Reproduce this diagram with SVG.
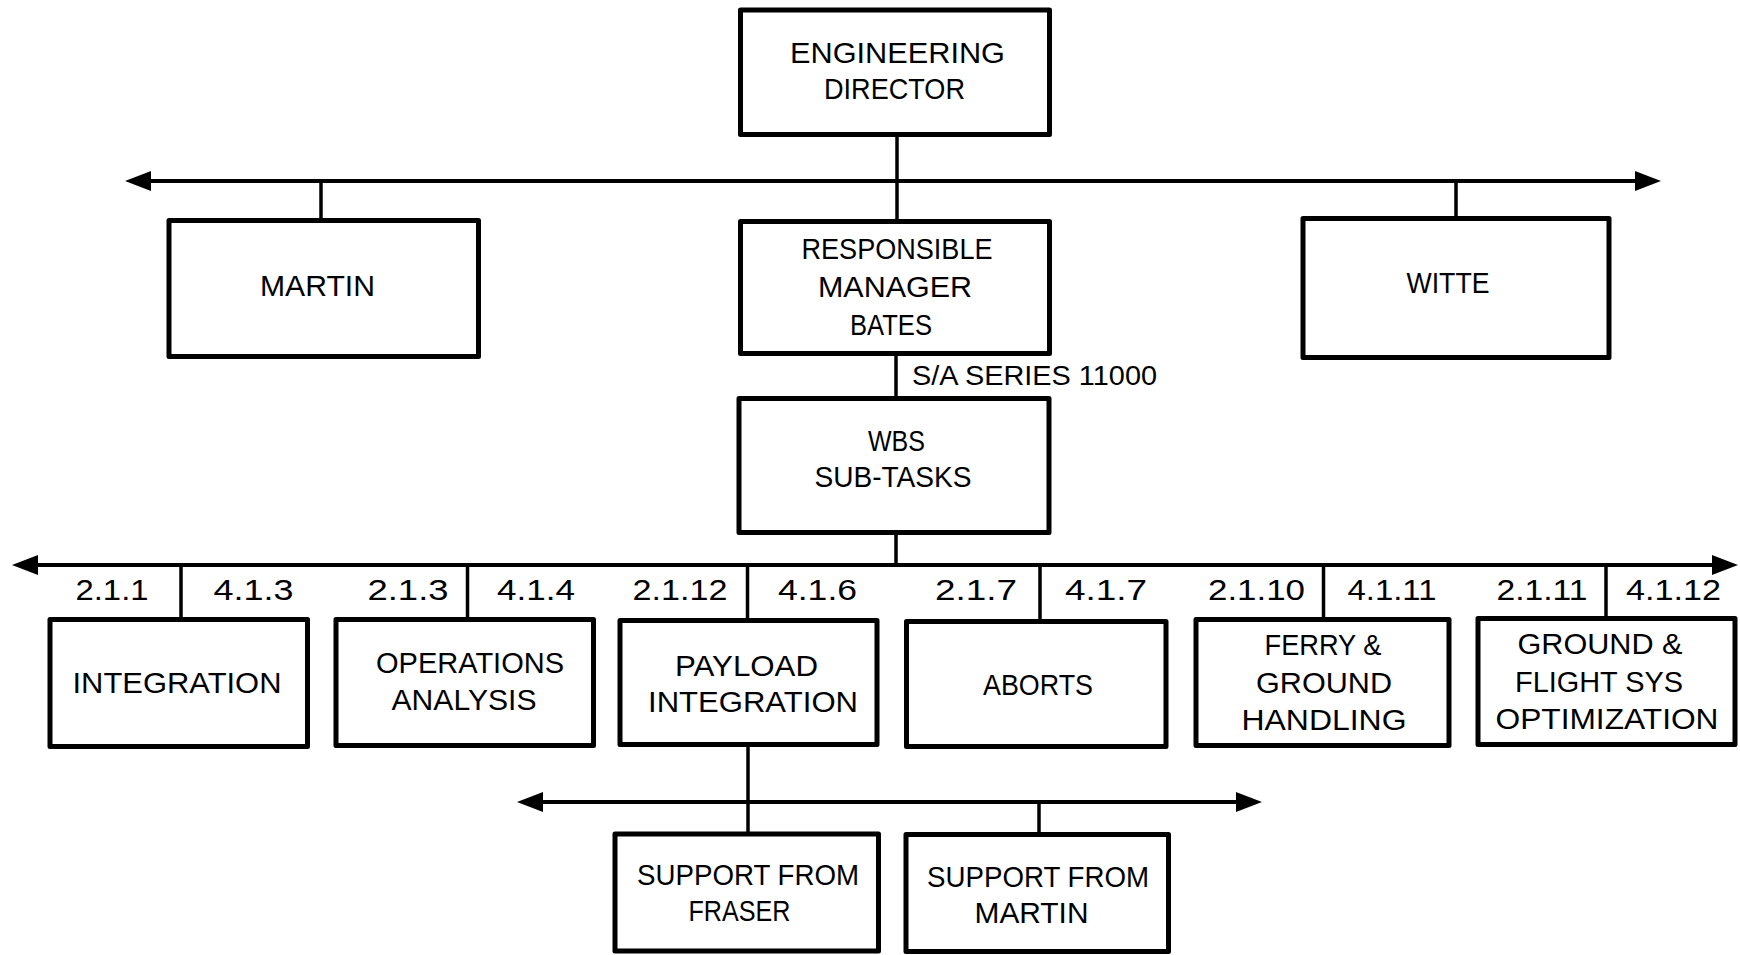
<svg xmlns="http://www.w3.org/2000/svg" width="1740" height="955" viewBox="0 0 1740 955">
  <style>
    .box { fill: #ffffff; stroke: #000000; stroke-width: 5; stroke-linejoin: round; }
    .ln { stroke: #000000; stroke-width: 4; fill: none; }
    .conn { stroke: #000000; stroke-width: 3.5; fill: none; }
    .t { font-family: "Liberation Sans", Arial, sans-serif; font-size: 30px; fill: #000000; text-anchor: middle; }
    .code { font-family: "Liberation Sans", Arial, sans-serif; font-size: 29px; fill: #000000; text-anchor: middle; }
    .lab { font-family: "Liberation Sans", Arial, sans-serif; font-size: 28px; fill: #000000; }
  </style>
  <defs>
    <marker id="ah" markerUnits="userSpaceOnUse" markerWidth="28" markerHeight="22" refX="1" refY="11" orient="auto-start-reverse" viewBox="0 0 28 22">
      <path d="M0,1 L26,11 L0,21 z" fill="#000000"/>
    </marker>
  </defs>
  <rect width="1740" height="955" fill="#ffffff"/>

  <g id="connectors">
    <line class="ln" x1="150" y1="181" x2="1636" y2="181" marker-start="url(#ah)" marker-end="url(#ah)"/>
    <line class="conn" x1="897" y1="137" x2="897" y2="221"/>
    <line class="conn" x1="321" y1="181" x2="321" y2="220"/>
    <line class="conn" x1="1456" y1="181" x2="1456" y2="218"/>
    <line class="conn" x1="896" y1="355" x2="896" y2="398"/>
    <line class="conn" x1="896" y1="534" x2="896" y2="565"/>
    <line class="ln" x1="37" y1="565" x2="1713" y2="565" marker-start="url(#ah)" marker-end="url(#ah)"/>
    <line class="conn" x1="181" y1="565" x2="181" y2="619"/>
    <line class="conn" x1="467.5" y1="565" x2="467.5" y2="619"/>
    <line class="conn" x1="747.5" y1="565" x2="747.5" y2="620"/>
    <line class="conn" x1="1040" y1="565" x2="1040" y2="621"/>
    <line class="conn" x1="1323.5" y1="565" x2="1323.5" y2="619"/>
    <line class="conn" x1="1606" y1="565" x2="1606" y2="618"/>
    <line class="conn" x1="748" y1="746" x2="748" y2="834"/>
    <line class="ln" x1="542" y1="802" x2="1237" y2="802" marker-start="url(#ah)" marker-end="url(#ah)"/>
    <line class="conn" x1="1039" y1="802" x2="1039" y2="834"/>
  </g>

  <g id="engineering-director">
    <rect class="box" x="740.5" y="10" width="309" height="124.5"/>
    <text class="t" x="897.5" y="63" textLength="215" lengthAdjust="spacingAndGlyphs">ENGINEERING</text>
    <text class="t" x="894.5" y="99" textLength="141" lengthAdjust="spacingAndGlyphs">DIRECTOR</text>
  </g>

  <g id="martin">
    <rect class="box" x="169" y="220.5" width="309.5" height="136"/>
    <text class="t" x="317.5" y="296" textLength="115" lengthAdjust="spacingAndGlyphs">MARTIN</text>
  </g>

  <g id="responsible-manager">
    <rect class="box" x="740.5" y="221.5" width="309" height="132"/>
    <text class="t" x="897" y="259" textLength="191" lengthAdjust="spacingAndGlyphs">RESPONSIBLE</text>
    <text class="t" x="895" y="297" textLength="154" lengthAdjust="spacingAndGlyphs">MANAGER</text>
    <text class="t" x="891" y="335" textLength="82" lengthAdjust="spacingAndGlyphs">BATES</text>
  </g>

  <g id="witte">
    <rect class="box" x="1303" y="218.5" width="306" height="139"/>
    <text class="t" x="1448" y="293" textLength="83" lengthAdjust="spacingAndGlyphs">WITTE</text>
  </g>

  <text class="lab" x="912" y="385" textLength="245" lengthAdjust="spacingAndGlyphs">S/A SERIES 11000</text>

  <g id="wbs-sub-tasks">
    <rect class="box" x="739" y="398.5" width="310" height="134"/>
    <text class="t" x="896.5" y="451" textLength="57" lengthAdjust="spacingAndGlyphs">WBS</text>
    <text class="t" x="893" y="487" textLength="157" lengthAdjust="spacingAndGlyphs">SUB-TASKS</text>
  </g>

  <g id="codes">
    <text class="code" x="112" y="600" textLength="73" lengthAdjust="spacingAndGlyphs">2.1.1</text>
    <text class="code" x="253.5" y="600" textLength="80" lengthAdjust="spacingAndGlyphs">4.1.3</text>
    <text class="code" x="408" y="600" textLength="81" lengthAdjust="spacingAndGlyphs">2.1.3</text>
    <text class="code" x="536" y="600" textLength="78" lengthAdjust="spacingAndGlyphs">4.1.4</text>
    <text class="code" x="680" y="600" textLength="95" lengthAdjust="spacingAndGlyphs">2.1.12</text>
    <text class="code" x="817.5" y="600" textLength="79" lengthAdjust="spacingAndGlyphs">4.1.6</text>
    <text class="code" x="976" y="600" textLength="82" lengthAdjust="spacingAndGlyphs">2.1.7</text>
    <text class="code" x="1106" y="600" textLength="82" lengthAdjust="spacingAndGlyphs">4.1.7</text>
    <text class="code" x="1256.5" y="600" textLength="97" lengthAdjust="spacingAndGlyphs">2.1.10</text>
    <text class="code" x="1392" y="600" textLength="89" lengthAdjust="spacingAndGlyphs">4.1.11</text>
    <text class="code" x="1542" y="600" textLength="91" lengthAdjust="spacingAndGlyphs">2.1.11</text>
    <text class="code" x="1673.5" y="600" textLength="95" lengthAdjust="spacingAndGlyphs">4.1.12</text>
  </g>

  <g id="integration">
    <rect class="box" x="50" y="619.5" width="257.5" height="127"/>
    <text class="t" x="177" y="693" textLength="209" lengthAdjust="spacingAndGlyphs">INTEGRATION</text>
  </g>

  <g id="operations-analysis">
    <rect class="box" x="336" y="619.5" width="257.5" height="126"/>
    <text class="t" x="470" y="673" textLength="188" lengthAdjust="spacingAndGlyphs">OPERATIONS</text>
    <text class="t" x="464" y="710" textLength="145" lengthAdjust="spacingAndGlyphs">ANALYSIS</text>
  </g>

  <g id="payload-integration">
    <rect class="box" x="620" y="620.5" width="257" height="124"/>
    <text class="t" x="746.5" y="676" textLength="143" lengthAdjust="spacingAndGlyphs">PAYLOAD</text>
    <text class="t" x="753" y="712" textLength="210" lengthAdjust="spacingAndGlyphs">INTEGRATION</text>
  </g>

  <g id="aborts">
    <rect class="box" x="906.5" y="621.5" width="259.5" height="125"/>
    <text class="t" x="1038" y="695" textLength="110" lengthAdjust="spacingAndGlyphs">ABORTS</text>
  </g>

  <g id="ferry-ground-handling">
    <rect class="box" x="1196" y="619.5" width="253" height="126"/>
    <text class="t" x="1323" y="655" textLength="117" lengthAdjust="spacingAndGlyphs">FERRY &amp;</text>
    <text class="t" x="1324" y="693" textLength="136" lengthAdjust="spacingAndGlyphs">GROUND</text>
    <text class="t" x="1324" y="730" textLength="165" lengthAdjust="spacingAndGlyphs">HANDLING</text>
  </g>

  <g id="ground-flight-sys">
    <rect class="box" x="1478" y="618.5" width="257" height="126"/>
    <text class="t" x="1600" y="654" textLength="165" lengthAdjust="spacingAndGlyphs">GROUND &amp;</text>
    <text class="t" x="1599" y="692" textLength="168" lengthAdjust="spacingAndGlyphs">FLIGHT SYS</text>
    <text class="t" x="1607" y="729" textLength="223" lengthAdjust="spacingAndGlyphs">OPTIMIZATION</text>
  </g>

  <g id="support-fraser">
    <rect class="box" x="615" y="834" width="263.5" height="117"/>
    <text class="t" x="748" y="885" textLength="222" lengthAdjust="spacingAndGlyphs">SUPPORT FROM</text>
    <text class="t" x="739.5" y="921" textLength="102" lengthAdjust="spacingAndGlyphs">FRASER</text>
  </g>

  <g id="support-martin">
    <rect class="box" x="906" y="834.5" width="262.5" height="117"/>
    <text class="t" x="1038" y="887" textLength="222" lengthAdjust="spacingAndGlyphs">SUPPORT FROM</text>
    <text class="t" x="1031.5" y="923" textLength="114" lengthAdjust="spacingAndGlyphs">MARTIN</text>
  </g>
</svg>
